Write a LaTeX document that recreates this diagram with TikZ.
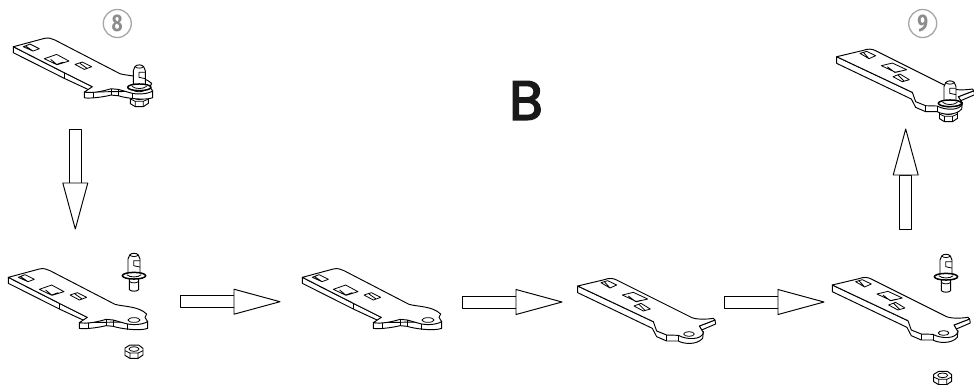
\documentclass[tikz,border=0pt]{standalone}
\usepackage{fontspec}
\newfontfamily\numfont{Fira Sans}
\newfontfamily\letterfont[FakeBold=3]{Poppins}
\newcommand{\drawstudtop}{
    \draw[part] (-18,-8) -- (-18,-50) -- (-13,-62) .. controls (-8,-69) and (8,-69) .. (13,-62)
      -- (18,-50) -- (18,-8) -- cycle;
    \draw[hole] (-13,-62) .. controls (-8,-56) and (8,-56) .. (13,-62);
    \draw[hole] (18,-45) -- (-1,-45) -- (-1,-30) -- (18,-26);
    \draw[part, line width=1.5pt] (0,0) ellipse [x radius=35, y radius=10];
    \draw[hole] (-22,-3) .. controls (-12,6) and (12,6) .. (22,-3);
}
\tikzset{
  part/.style = {draw, fill=white, line join=round, line width=.95pt},
  hole/.style = {draw, line join=round, line width=.8pt},
  stepnum/.style = {draw=black!35, line width=1.3pt, circle, minimum size=28pt, inner sep=0pt,
                    text=black!45, font=\numfont\bfseries\fontsize{24}{24}\selectfont},
  bigarrow/.pic = {
    \draw[part] (0,-6) -- (54,-6) -- (54,6) -- (0,6) -- cycle;
    \draw[part] (54,-12.5) -- (100,0) -- (54,12.5) -- cycle;
  },
  levera/.pic = {
    \draw[part] (238,248) -- (238,265) .. controls (250,268) and (290,264) .. (318,257)
      -- (340,259) .. controls (360,266) and (420,274) .. (443,265) -- (443,245) -- cycle;
    \draw[part] (25,112) -- (25,130) -- (178,207) -- (262,246) -- (262,232) -- (178,190) -- cycle;
    \draw[part] (25,112) -- (118,87) .. controls (130,84) and (140,87) .. (150,92) -- (345,193)
      .. controls (370,200) and (415,198) .. (440,222) -- (435,232) -- (443,245)
      .. controls (425,255) and (395,256) .. (375,250) -- (340,240) -- (318,238)
      .. controls (295,245) and (265,252) .. (238,248) -- (262,232) -- (178,190) -- cycle;
    \draw[hole] (178,190) -- (178,207);
    \draw[hole] (265,249) -- (265,266) (318,238) -- (318,257) (340,240) -- (340,259) (383,252) -- (383,270);
    \draw[hole] (55,112) -- (75,104) -- (103,118) -- (84,125) -- cycle (62,110) -- (84,125);
    \draw[hole] (118,148) -- (155,135) -- (192,155) -- (156,166) -- cycle (137,150) -- (155,165) -- (175,158);
    \draw[hole] (210,165) -- (232,158) -- (260,172) -- (238,180) -- cycle (225,162) -- (245,176);
    \draw[hole] (402,240) ellipse [x radius=18, y radius=7];
  },
  leverb/.pic = {
    \draw[part] (38,78) -- (38,98) -- (262,205) -- (275,230) -- (305,243) -- (340,243)
      .. controls (355,252) and (395,256) .. (413,235) -- (415,215) -- (265,185) -- cycle;
    \draw[part] (450,180) -- (452,192) -- (410,210) -- (403,198) -- cycle;
    \draw[part] (38,78) -- (118,59) .. controls (130,54) and (145,54) .. (155,60) -- (375,170)
      .. controls (390,180) and (425,178) .. (445,175) -- (450,180) -- (403,198) -- (415,218)
      .. controls (410,240) and (365,240) .. (340,226) -- (305,225) -- (275,213) -- (265,185) -- cycle;
    \draw[hole] (305,225) -- (305,243) (340,226) -- (340,243);
    \draw[hole] (108,68) -- (128,62) -- (155,75) -- (135,84) -- cycle (118,65) -- (135,84);
    \draw[hole] (172,105) -- (205,97) -- (248,117) -- (215,125) -- cycle (190,108) -- (212,125) -- (228,121);
    \draw[hole] (207,138) -- (228,130) -- (256,147) -- (235,153) -- cycle (222,133) -- (240,151);
    \draw[hole] (372,222) ellipse [x radius=16, y radius=7];
  },
  studtop/.pic = {\drawstudtop},
  studfull/.pic = {
    \draw[part] (-14,5) -- (-14,42) .. controls (-8,48) and (8,48) .. (14,42) -- (14,5) -- cycle;
    \draw[hole] (-14,17) .. controls (-8,23) and (8,23) .. (14,17);
    \drawstudtop
  },
  nutpart/.pic = {
    \draw[part] (-27,-11) -- (-12,-20) -- (14,-20) -- (27,-10) -- (27,10) -- (12,20) -- (-12,20) -- (-27,11) -- cycle;
    \draw[hole] (-27,-3) -- (-12,4) -- (12,4) -- (27,-3) (-12,4) -- (-12,20) (12,4) -- (12,20);
    \draw[hole] (0,-8) ellipse [x radius=15, y radius=7];
  }
}

\begin{document}
\begin{tikzpicture}[x=1pt, y=-1pt]
    \useasboundingbox (0,0) rectangle (974,384);
    \clip (0,0) rectangle (974,384);

    \node[stepnum] (num8) at (117.3,23.5) {\scalebox{.8}[1]{8}};
    \node[stepnum] (num9) at (922.7,23.5) {\scalebox{.8}[1]{9}};
    \node[font=\letterfont\fontsize{55}{55}\selectfont, text=black!90] (letterB) at (526,100.5) {B};

    % top left, assembled
    \pic[scale=1/3] at (139.3,100) {nutpart};
    \pic[scale=1/3] at (5,9.4) {levera};
    \pic[scale=1/3] at (139.3,87.3) {studtop};

    % top right, assembled
    \pic[scale=1/3] at (948.5,115) {nutpart};
    \pic[scale=1/3] at (824,30.7) {leverb};
    \pic[scale=1/3] at (950,103.3) {studtop};

    % bottom row
    \pic[scale=1/3] at (0,240) {levera};
    \pic[scale=1/3] at (134,275.7) {studfull};
    \pic[scale=1/3] at (134,351.7) {nutpart};
    \pic[scale=1/3] at (294,240) {levera};
    \pic[scale=1/3] at (565,260) {leverb};
    \pic[scale=1/3] at (819.6,259) {leverb};
    \pic[scale=1/3] at (946,276.7) {studfull};
    \pic[scale=1/3] at (942.7,378) {nutpart};

    % arrows
    \pic[rotate=-90] at (75.3,129) {bigarrow};
    \pic at (180,301.7) {bigarrow};
    \pic at (462,302) {bigarrow};
    \pic at (724,302) {bigarrow};
    \pic[rotate=90] at (905.7,229) {bigarrow};
\end{tikzpicture}
\end{document}
